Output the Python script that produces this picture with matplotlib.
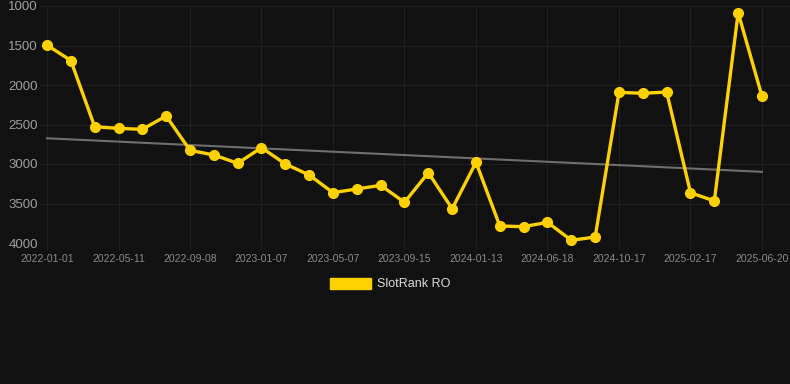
import numpy as np
import matplotlib
matplotlib.use("Agg")
import matplotlib.pyplot as plt

plt.rcParams['font.family'] = ['Liberation Sans', 'DejaVu Sans']

# rank values, one per observation (equally spaced on the x axis)
ranks = [1495, 1690, 2528, 2549, 2561, 2392, 2827, 2886, 2991, 2793,
         3000, 3139, 3363, 3316, 3270, 3485, 3110, 3566, 2979, 3785,
         3793, 3738, 3966, 3924, 2093, 2105, 2089, 3363, 3468, 1085,
         2143]
tick_labels = ["2022-01-01", "2022-05-11", "2022-09-08", "2023-01-07",
               "2023-05-07", "2023-09-15", "2024-01-13", "2024-06-18",
               "2024-10-17", "2025-02-17", "2025-06-20"]
y_ticks = [1000, 1500, 2000, 2500, 3000, 3500, 4000]
series_name = "SlotRank RO"

BG = "#111111"
GOLD = "#FFD100"

x = np.arange(len(ranks))

fig = plt.figure(figsize=(7.9, 3.84), dpi=100, facecolor=BG)
ax = fig.add_axes([40 / 790, 1 - 243 / 384, 750 / 790, 237 / 384])
ax.set_facecolor(BG)

# trend line (least squares fit)
slope, intercept = np.polyfit(x, ranks, 1)
ax.plot([x[0], x[-1]], [intercept, intercept + slope * x[-1]],
        color="#6e6e6e", linewidth=1.5, zorder=2)

ax.plot(x, ranks, color=GOLD, linewidth=2.4, marker="o", markersize=7,
        zorder=3, clip_on=False, label=series_name)

ax.set_ylim(4000, 1000)
ax.set_xlim(-7 / 23.83, 30 + 28 / 23.83)
ax.set_yticks(y_ticks)
ax.set_xticks(x[::3])
ax.set_xticklabels(tick_labels)

ax.grid(True, color="#1f1f1f", linewidth=0.8)
for s in ax.spines.values():
    s.set_visible(False)
ax.tick_params(axis="y", colors="#1f1f1f", labelcolor="#a0a0a0",
               labelsize=9.5, length=0, pad=1.5)
ax.tick_params(axis="x", colors="#1f1f1f", labelcolor="#8a8a8a",
               labelsize=7.5, length=5, pad=3)

leg = fig.legend(handles=[plt.Rectangle((0, 0), 1, 1, color=GOLD)],
                 labels=[series_name], loc="center",
                 bbox_to_anchor=(390 / 790, 1 - 284 / 384),
                 frameon=False, fontsize=9, handlelength=3.3,
                 handleheight=1.0, handletextpad=0.5, labelcolor="#dddddd")

fig.savefig("out.png", dpi=100, facecolor=BG)
